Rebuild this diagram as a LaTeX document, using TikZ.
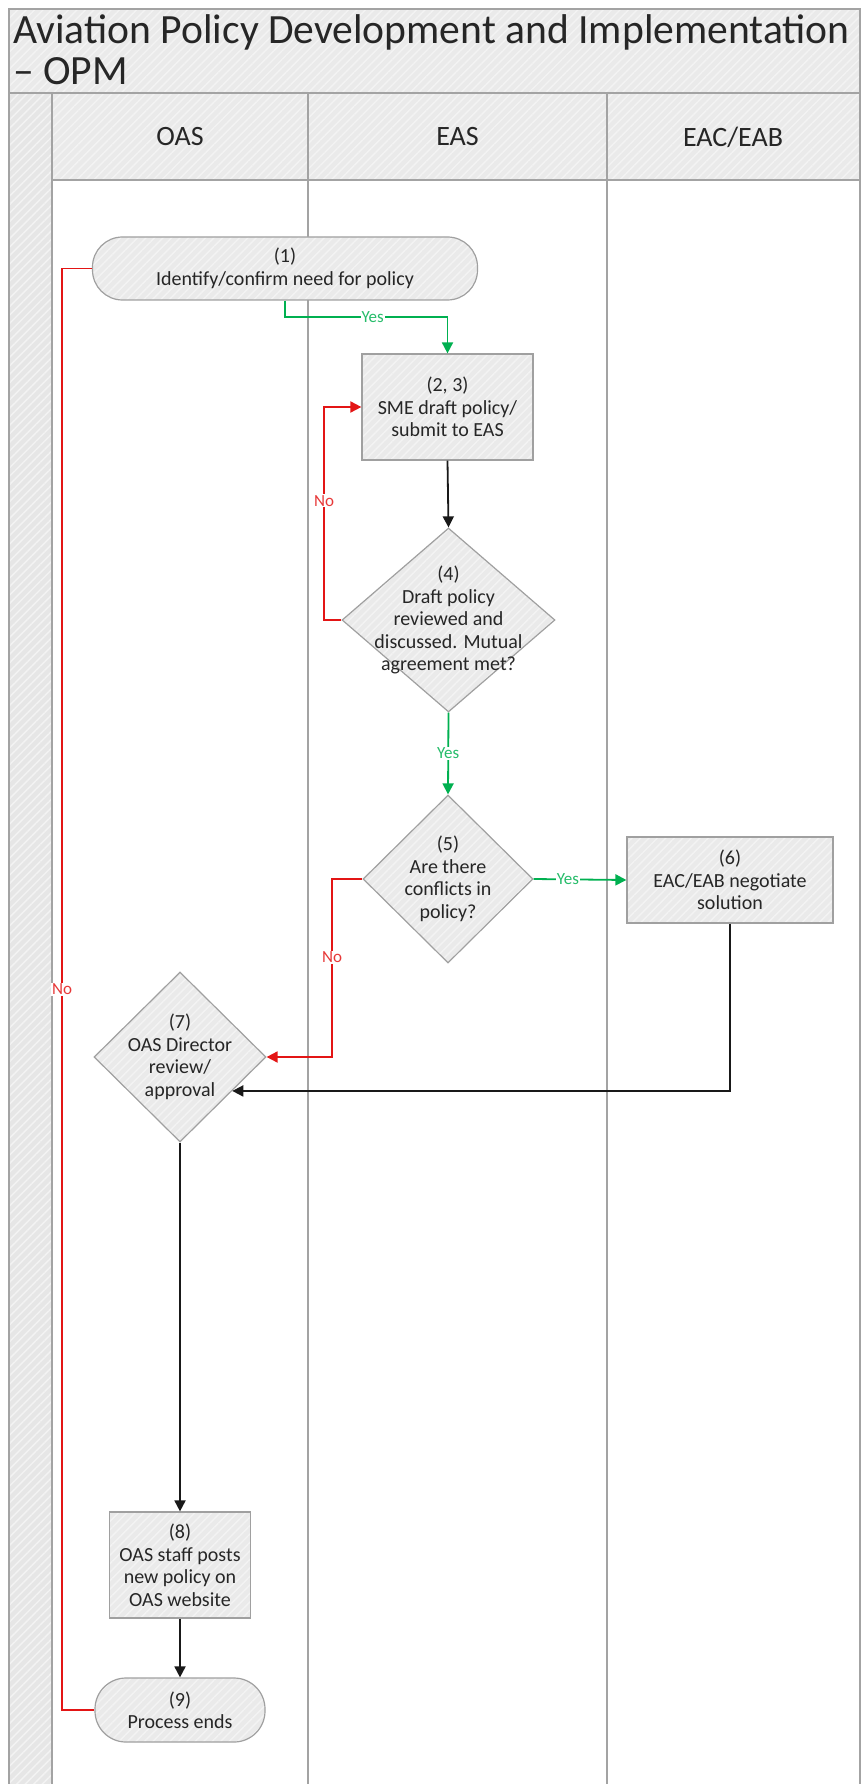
\documentclass[tikz,border=0pt]{standalone}
\usepackage{fontspec}
\setmainfont{Carlito}
\usetikzlibrary{shapes.geometric,arrows.meta,patterns.meta,calc}
\definecolor{frame}{HTML}{A3A3A3}
\definecolor{hdr}{HTML}{EAEAEA}
\definecolor{hatchc}{HTML}{F3F3F3}
\definecolor{stripc}{HTML}{E6E6E6}
\definecolor{nodefill}{HTML}{EAEAEA}
\definecolor{nodeborder}{HTML}{A0A0A0}
\definecolor{txt}{HTML}{262626}
\definecolor{ygreen}{HTML}{00B050}
\definecolor{nred}{HTML}{E31515}
\newcommand\myNodeFont{\fontsize{20}{22.5}\selectfont}
\newcommand\myLabFont{\fontsize{17}{17}\selectfont}
\tikzset{
  hatched/.style={preaction={fill=#1}, pattern={Lines[angle=45,distance=6pt,line width=1.4pt]}, pattern color=hatchc},
  lanebox/.style={draw=frame, line width=1.2pt},
  lanelab/.style={font=\fontsize{28}{28}\selectfont, text=txt},
  titletext/.style={anchor=base west, inner sep=0pt, font=\fontsize{41.6}{42}\selectfont, text=txt},
  proc/.style={draw=nodeborder, line width=1.2pt, hatched=nodefill, align=center, font=\myNodeFont, text=txt, inner sep=2pt},
  term/.style={proc, rounded corners=30pt},
  dia/.style={diamond, draw=nodeborder, line width=1.2pt, hatched=nodefill, inner sep=0pt},
  dtext/.style={align=center, font=\myNodeFont, text=txt, inner sep=0pt},
  flow/.style={line width=1.8pt, draw=black!90, -{Triangle[length=11pt,width=11pt]}},
  yesline/.style={flow, draw=ygreen},
  noline/.style={flow, draw=nred},
  yeslab/.style={fill=white, inner sep=1pt, text=ygreen!85!white, font=\myLabFont},
  nolab/.style={fill=white, inner sep=1pt, text=nred!85!white, font=\myLabFont}
}
\begin{document}
\begin{tikzpicture}[x=1pt,y=-1pt]
\useasboundingbox (0,0) rectangle (862,1784);
% pool frame
\path[lanebox, hatched=hdr] (9,9) rectangle (860,93);
\path[lanebox, hatched=stripc] (9,93) rectangle (52,1800);
\path[lanebox, hatched=hdr] (52,93) rectangle (308,180);
\path[lanebox, hatched=hdr] (308,93) rectangle (607,180);
\path[lanebox, hatched=hdr] (607,93) rectangle (860,180);
\draw[lanebox] (52,180) rectangle (308,1800);
\draw[lanebox] (308,180) rectangle (607,1800);
\draw[lanebox] (607,180) rectangle (860,1800);
% titles
\node[titletext] (title1) at (13,44) {Aviation Policy Development and Implementation};
\node[titletext] (title2) at (13,85) {– OPM};
\node[lanelab] (lOAS) at (180,137) {OAS};
\node[lanelab] (lEAS) at (457.5,137) {EAS};
\node[lanelab] (lEAC) at (733,137) {EAC/EAB};
% nodes
\node[term, minimum width=385pt, minimum height=63pt] (n1) at (285,268.5) {(1)\\Identify/confirm need for policy};
\node[proc, minimum width=171pt, minimum height=106pt] (n23) at (447.5,407) {(2, 3)\\SME draft policy/\\submit to EAS};
\node[dia, minimum width=213pt, minimum height=184pt,
  label={[dtext]center:{(4)\\Draft policy\\reviewed and\\discussed. Mutual\\agreement met?}}] (n4) at (448.5,620) {};
\node[dia, minimum width=170pt, minimum height=168pt,
  label={[dtext]center:{(5)\\Are there\\conflicts in\\policy?}}] (n5) at (448,879) {};
\node[proc, minimum width=206pt, minimum height=86pt] (n6) at (730,880) {(6)\\EAC/EAB negotiate\\solution};
\node[dia, minimum width=172pt, minimum height=170pt,
  label={[dtext]center:{(7)\\OAS Director\\review/\\approval}}] (n7) at (180,1057) {};
\node[proc, minimum width=141pt, minimum height=106pt] (n8) at (180,1565) {(8)\\OAS staff posts\\new policy on\\OAS website};
\node[term, minimum width=170pt, minimum height=64pt, rounded corners=31pt] (n9) at (180,1710) {(9)\\Process ends};
% connectors
\coordinate (c1) at (285,317);
\draw[yesline] (n1.south) -- (c1) -| node[yeslab, pos=0.27]{Yes} (n23.north);
\draw[flow] (n23.south) -- (n4.north);
\coordinate (c4) at (324,620);
\draw[noline] (n4.west) -- (c4) |- node[nolab, pos=0.28]{No} (n23.west);
\draw[yesline] (n4.south) -- node[yeslab]{Yes} (n5.north);
\draw[yesline] (n5.east) -- node[yeslab, pos=0.37]{Yes} (n6.west);
\coordinate (c5) at (332,879);
\draw[noline] (n5.west) -- (c5) |- node[nolab, pos=0.22]{No} (n7.east);
\draw[flow] (n6.south) |- (n7.-33.4);
\draw[flow] (n7.south) -- (n8.north);
\draw[flow] (n8.south) -- (n9.north);
\coordinate (c9) at (62,268.5);
\draw[noline, -] (n1.west) -- (c9) |- node[nolab, pos=0.25]{No} (n9.west);
\end{tikzpicture}
\end{document}
